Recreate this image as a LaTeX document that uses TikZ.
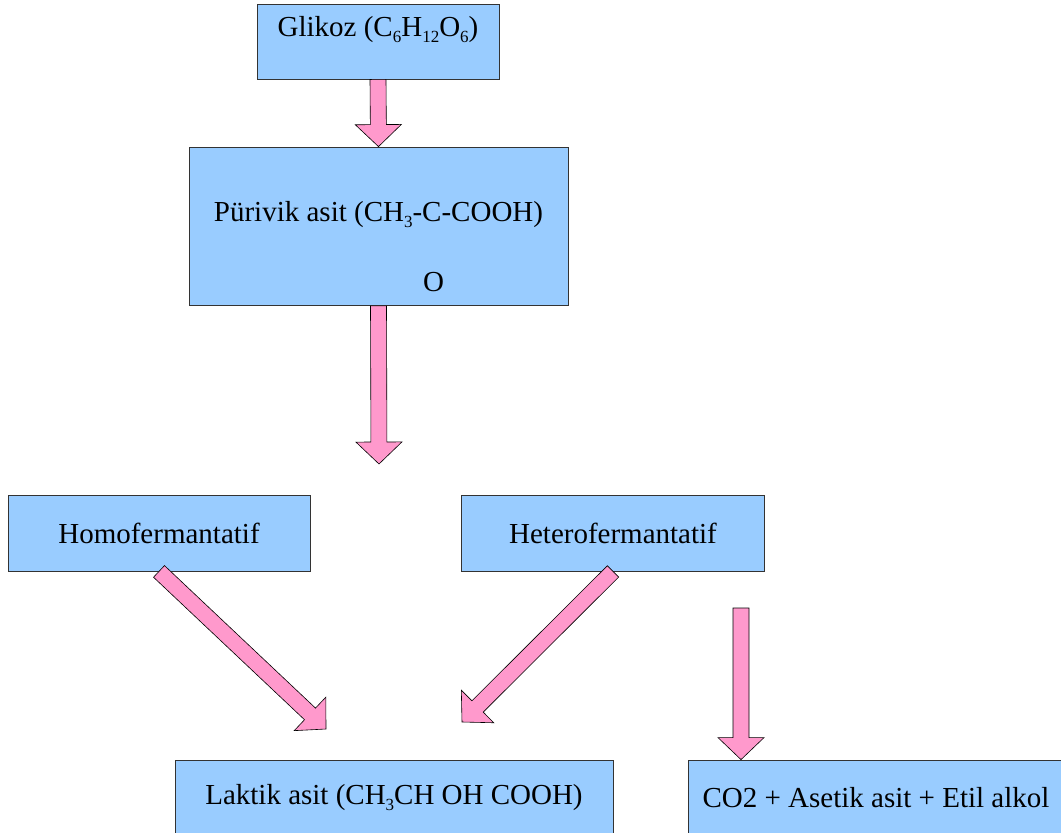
\documentclass[tikz,border=0pt]{standalone}
\usepackage{fontspec}
\setmainfont{Liberation Serif}
\usepackage{tikz}
\usetikzlibrary{calc}
\newcommand{\chemsub}[1]{\raisebox{-6pt}{\fontsize{17}{17}\selectfont #1}}

\begin{document}
\begin{tikzpicture}[x=1pt,y=-1pt]
        \definecolor{boxfill}{HTML}{99CCFF}
        \definecolor{arrowfill}{HTML}{FF99CC}
        \tikzstyle{every node}=[rectangle,fill=boxfill,draw=black!80,text=black,line width=0.8pt,inner sep=2pt,font=\fontsize{29}{34}\selectfont]
        \tikzset{block arrow/.style={fill=arrowfill, draw=black, line width=0.6pt, to path={let \p1=($(\tikztotarget)-(\tikztostart)$), \n1={atan2(\y1,\x1)}, \n2={veclen(\x1,\y1)} in [shift={(\tikztostart)}, rotate=\n1] (0pt,-8pt) -- (\n2-22pt,-8pt) -- (\n2-22pt,-23pt) -- (\n2,0pt) -- (\n2-22pt,23pt) -- (\n2-22pt,8pt) -- (0pt,8pt) -- cycle}}}

        \path [use as bounding box] (0,0) rectangle (1061,833);
        \clip (0,0) rectangle (1061,833);

        \node [minimum width=242pt, minimum height=75pt, text height=20pt, text depth=31pt] (gluc) at (378,41.5) {Glikoz (C\chemsub{6}H\chemsub{12}O\chemsub{6})};
        \node [minimum width=379pt, minimum height=158.5pt, align=center, text height=131pt, text depth=0pt] (pyr) at (378.5,226.25) {Pürivik asit (CH\chemsub{3}-C-COOH)\\[36pt]\hspace*{110pt}O};
        \node [minimum width=302pt, minimum height=76pt] (homo) at (159,533) {Homofermantatif};
        \node [minimum width=303pt, minimum height=76pt] (hetero) at (613,533) {Heterofermantatif};
        \node [minimum width=438pt, minimum height=76pt] (lact) at (394,798) {Laktik asit (CH\chemsub{3}CH OH COOH)};
        \node [minimum width=376pt, minimum height=76pt] (prod) at (876,798) {CO2 + Asetik asit + Etil alkol};

        \coordinate (pyrout) at (379,464);
        \coordinate (homoout) at (326,729);
        \coordinate (heteroout) at (462,722);
        \coordinate (co2in) at (741,608);

        \draw [block arrow] (gluc.south) to (pyr.north);
        \draw [block arrow] (pyr.south) to (pyrout);
        \draw [block arrow] (homo.south) to (homoout);
        \draw [block arrow] (hetero.south) to (heteroout);
        \draw [block arrow] (co2in) to (co2in |- prod.north);
    \end{tikzpicture}
\end{document}
